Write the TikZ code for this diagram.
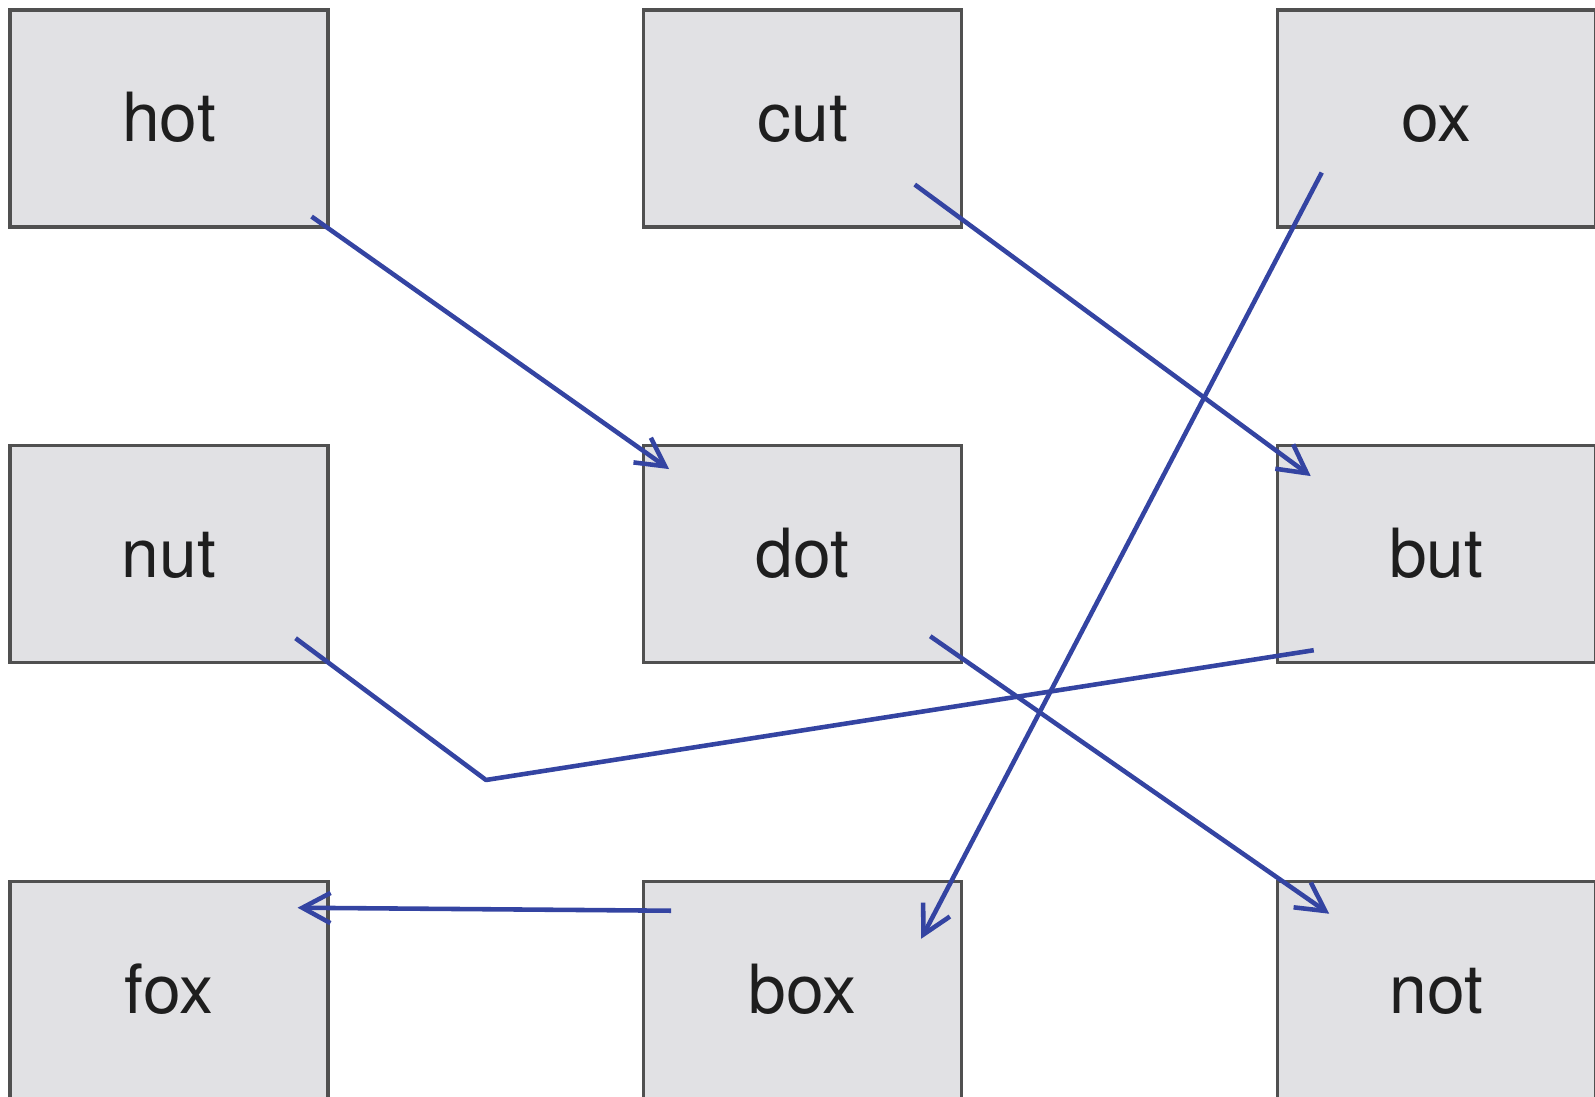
\documentclass[tikz,border=0pt]{standalone}
\usepackage{fontspec}
\setmainfont{TeX Gyre Heros}
\usepackage{tikz}
\usetikzlibrary{positioning,arrows.meta}
\definecolor{wordblue}{RGB}{52,68,162}
\definecolor{wordfill}{RGB}{225,225,228}
\definecolor{wordedge}{RGB}{80,80,80}
\definecolor{wordtext}{RGB}{30,30,30}

\begin{document}
\begin{tikzpicture}[
  node distance=2.155cm and 3.125cm,
  word/.style={draw=wordedge, line width=0.9pt, fill=wordfill, text=wordtext, minimum width=3.18cm, minimum height=2.17cm, text height=0.52cm, text depth=0.05cm, font=\fontsize{19.3}{23}\selectfont},
  arr/.style={-{Straight Barb[length=8pt,width=8.6pt,line width=1.3pt]}, line width=1.3pt, color=wordblue},
  link/.style={line width=1.3pt, color=wordblue, line join=round}
]
\useasboundingbox (0,0) rectangle (15.95,10.97);
\node[word] (hot) at (1.69,9.785) {hot};
\node[word, right=of hot] (cut) {cut};
\node[word, right=of cut] (ox) {ox};
\node[word, below=of hot] (nut) {nut};
\node[word, right=of nut] (dot) {dot};
\node[word, right=of dot] (but) {but};
\node[word, below=of nut] (fox) {fox};
\node[word, right=of fox] (box) {box};
\node[word, right=of box] (not) {not};

% end points inside the boxes
\coordinate (hot-out) at ([shift={(-0.18,0.12)}]hot.south east);
\coordinate (dot-in) at ([shift={(0.27,-0.25)}]dot.north west);
\coordinate (cut-out) at ([shift={(-0.485,0.44)}]cut.south east);
\coordinate (but-in) at ([shift={(0.35,-0.32)}]but.north west);
\coordinate (ox-out) at ([shift={(0.46,0.56)}]ox.south west);
\coordinate (box-in) at ([shift={(-0.42,-0.59)}]box.north east);
\coordinate (dot-out) at ([shift={(-0.33,0.28)}]dot.south east);
\coordinate (not-in) at ([shift={(0.535,-0.34)}]not.north west);
\coordinate (but-out) at ([shift={(0.38,0.14)}]but.south west);
\coordinate (nut-end) at ([shift={(-0.34,0.26)}]nut.south east);
\coordinate (bend) at (4.86,3.17);
\coordinate (box-out) at ([shift={(0.29,-0.31)}]box.north west);
\coordinate (fox-in) at ([shift={(-0.32,-0.28)}]fox.north east);

\draw[arr] (hot-out) -- (dot-in);
\draw[arr] (cut-out) -- (but-in);
\draw[arr] (ox-out) -- (box-in);
\draw[arr] (dot-out) -- (not-in);
\draw[link] (but-out) -- (bend) -- (nut-end);
\draw[arr] (box-out) -- (fox-in);
\end{tikzpicture}
\end{document}
